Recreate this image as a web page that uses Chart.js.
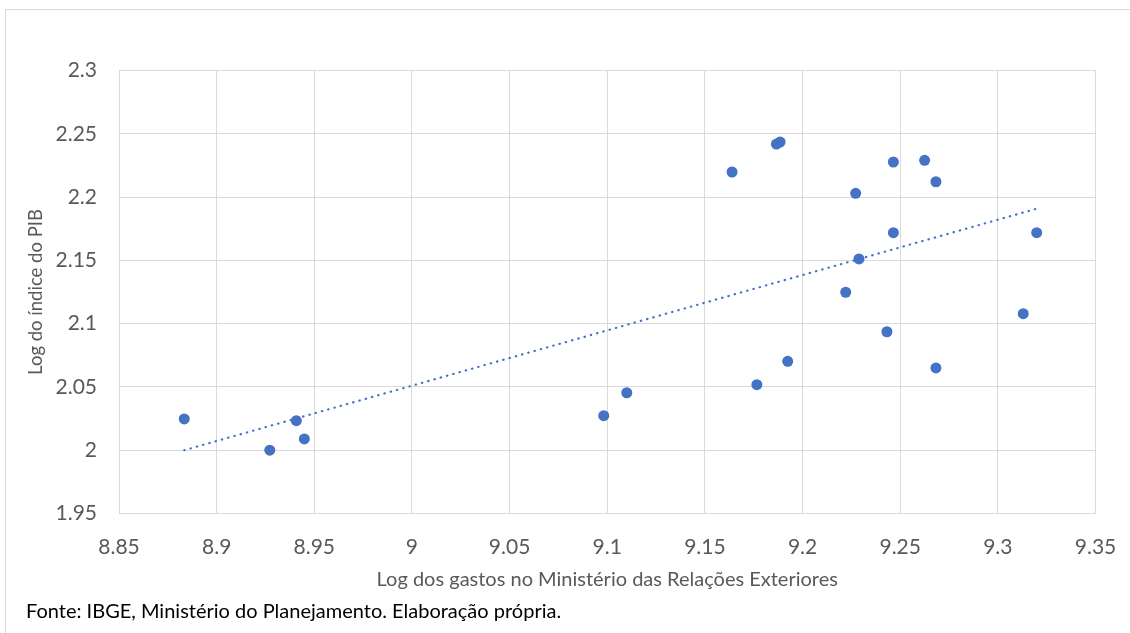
<!DOCTYPE html>
<html>
<head>
<meta charset="utf-8">
<script src="https://cdn.jsdelivr.net/npm/chart.js@4"></script>
<style>
  html, body { margin: 0; padding: 0; background: #ffffff; }
  #wrap { width: 1130px; height: 633px; position: relative; }
</style>
</head>
<body>
<div id="wrap"><canvas id="c" width="1130" height="633"></canvas></div>
<script>
// ---- data ----
const xValues = [8.8834, 8.9272, 8.9408, 8.9449, 9.0982, 9.1100, 9.1639, 9.1766, 9.1866, 9.1885, 9.1924,
                 9.2221, 9.2272, 9.2289, 9.2432, 9.2465, 9.2465, 9.2625, 9.2683, 9.2683, 9.3130, 9.3199];
const yValues = [2.0247, 2.0000, 2.0233, 2.0089, 2.0273, 2.0454, 2.2198, 2.0518, 2.2419, 2.2435, 2.0702,
                 2.1248, 2.2030, 2.1511, 2.0936, 2.2277, 2.1719, 2.2290, 2.2121, 2.0650, 2.1079, 2.1719];
const trendX = [8.8834, 9.3199];
const trendY = [2.0000, 2.1908];
const xTicks = [8.85, 8.9, 8.95, 9, 9.05, 9.1, 9.15, 9.2, 9.25, 9.3, 9.35];
const xTickLabels = ['8.85', '8.9', '8.95', '9', '9.05', '9.1', '9.15', '9.2', '9.25', '9.3', '9.35'];
const yTicks = [1.95, 2, 2.05, 2.1, 2.15, 2.2, 2.25, 2.3];
const yTickLabels = ['1.95', '2', '2.05', '2.1', '2.15', '2.2', '2.25', '2.3'];
const xTitle = 'Log dos gastos no Ministério das Relações Exteriores';
const yTitle = 'Log do índice do PIB';
const sourceNote = 'Fonte: IBGE, Ministério do Planejamento. Elaboração própria.';

const FONT = 'Lato, "Open Sans", "DejaVu Sans", sans-serif';
const BLUE = '#4472C4';
const GRID = '#d9d9d9';
const TXT = '#595959';

const framePlugin = {
  id: 'frame',
  beforeDraw(chart) {
    const ctx = chart.ctx;
    ctx.save();
    ctx.fillStyle = '#ffffff';
    ctx.fillRect(0, 0, chart.width, chart.height);
    ctx.strokeStyle = GRID;
    ctx.lineWidth = 1;
    ctx.strokeRect(5.5, 9.5, 1300, 800);
    ctx.restore();
  },
  afterDraw(chart) {
    const ctx = chart.ctx;
    ctx.save();
    ctx.font = '20px ' + FONT;
    ctx.fillStyle = '#000000';
    ctx.textBaseline = 'middle';
    ctx.textAlign = 'left';
    ctx.fillText(sourceNote, 26, 612);
    ctx.restore();
  }
};

new Chart(document.getElementById('c'), {
  data: {
    datasets: [
      {
        type: 'line',
        label: 'Linear',
        data: trendX.map((x, i) => ({ x: x, y: trendY[i] })),
        borderColor: BLUE,
        borderWidth: 2.2,
        borderDash: [0.5, 6],
        borderCapStyle: 'round',
        pointRadius: 0,
        fill: false,
        order: 1
      },
      {
        type: 'scatter',
        label: 'PIB',
        data: xValues.map((x, i) => ({ x: x, y: yValues[i] })),
        backgroundColor: BLUE,
        borderColor: BLUE,
        borderWidth: 0,
        pointRadius: 5.5,
        pointHoverRadius: 5.5,
        order: 2
      }
    ]
  },
  options: {
    responsive: false,
    devicePixelRatio: 1,
    animation: false,
    layout: { padding: { left: 0, top: 70.5, right: 34.5, bottom: 0 } },
    plugins: { legend: { display: false }, tooltip: { enabled: false } },
    scales: {
      x: {
        type: 'linear',
        position: 'bottom',
        min: 8.85,
        max: 9.35,
        afterBuildTicks: s => { s.ticks = xTicks.map(v => ({ value: v })); },
        afterFit: s => { s.height = 119.5; s.paddingLeft = 0; s.paddingRight = 0; },
        ticks: {
          callback: (v, i) => xTickLabels[i],
          padding: 21,
          maxRotation: 0,
          autoSkip: false,
          color: TXT,
          font: { family: FONT, size: 21 }
        },
        grid: { color: GRID, lineWidth: 1, drawTicks: false },
        border: { color: GRID, width: 1 },
        title: {
          display: true,
          text: xTitle,
          color: TXT,
          font: { family: FONT, size: 20 },
          padding: { top: 0, bottom: 41 }
        }
      },
      y: {
        type: 'linear',
        position: 'left',
        min: 1.95,
        max: 2.3,
        afterBuildTicks: s => { s.ticks = yTicks.map(v => ({ value: v })); },
        afterFit: s => { s.width = 119; s.paddingTop = 0; s.paddingBottom = 0; },
        ticks: {
          callback: (v, i) => yTickLabels[i],
          padding: 22,
          autoSkip: false,
          color: TXT,
          font: { family: FONT, size: 21 }
        },
        grid: { color: GRID, lineWidth: 1, drawTicks: false },
        border: { color: GRID, width: 1 },
        title: {
          display: true,
          text: yTitle,
          color: TXT,
          font: { family: FONT, size: 18.5 },
          padding: { top: 24.9, bottom: 0 }
        }
      }
    }
  },
  plugins: [framePlugin]
});
</script>
</body>
</html>
